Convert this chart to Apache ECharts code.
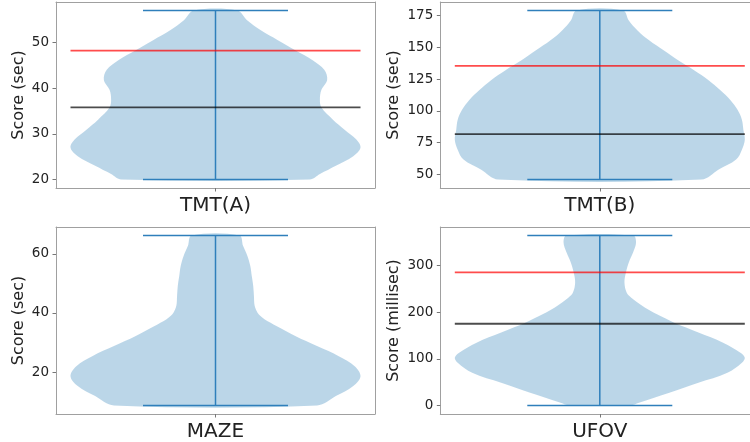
<!DOCTYPE html>
<html>
<head>
<meta charset="utf-8">
<script src="https://cdn.jsdelivr.net/npm/echarts@6/dist/echarts.min.js"></script>
<style>html,body{margin:0;padding:0;background:#fff;}#chart{width:750px;height:442px;}</style>
</head>
<body>
<div id="chart"></div>
<script>
// ---- data ----
const categories = ['TMT(A)', 'TMT(B)', 'MAZE', 'UFOV'];
const yAxisNames = ['Score (sec)', 'Score (sec)', 'Score (sec)', 'Score (millisec)'];
const yTickLabels = [[20, 30, 40, 50], [50, 75, 100, 125, 150, 175], [20, 40, 60], [0, 100, 200, 300]];
const minValues = [20, 46, 8.7, 0];
const maxValues = [57, 179, 66.2, 364];
const upperLines = [48.2, 135.4, null, 285];
const meanLines = [35.8, 81.7, null, 175];

// violin outlines: score values and relative half-widths (1 = widest)
const tmtAValues = [20.0, 21.2, 23.0, 25.1, 27.0, 28.8, 30.9, 33.1, 35.8, 37.5, 39.6, 41.8, 44.0, 46.1, 48.3, 50.5, 52.7, 54.8, 57.0];
const tmtAWidths = [0.65, 0.72, 0.83, 0.95, 1.0, 0.97, 0.89, 0.81, 0.73, 0.72, 0.73, 0.77, 0.75, 0.67, 0.55, 0.43, 0.31, 0.22, 0.15];
const tmtBValues = [46, 53.9, 61.7, 69.5, 77.3, 85.2, 93.0, 100.8, 108.6, 116.4, 124.2, 132.0, 139.8, 147.7, 155.5, 163.3, 171.1, 179];
const tmtBWidths = [0.70, 0.82, 0.94, 0.98, 1.0, 0.99, 0.98, 0.95, 0.90, 0.83, 0.75, 0.65, 0.54, 0.44, 0.34, 0.26, 0.20, 0.16];
const mazeValues = [8.7, 11.9, 15.3, 18.6, 22.0, 25.4, 28.8, 32.2, 35.6, 36.7, 37.8, 39.0, 40.1, 42.4, 45.8, 49.2, 52.5, 55.9, 59.3, 62.7, 66.2];
const mazeWidths = [0.70, 0.83, 0.95, 1.0, 0.96, 0.85, 0.70, 0.55, 0.42, 0.38, 0.34, 0.31, 0.29, 0.27, 0.265, 0.26, 0.25, 0.24, 0.22, 0.19, 0.165];
const ufovValues = [0, 5.8, 27.3, 48.7, 70.2, 91.7, 102.4, 113.2, 134.6, 156.1, 177.6, 188.4, 199, 209.8, 220.5, 231.3, 242, 263.5, 285, 306.4, 327.9, 349.4, 364];
const ufovWidths = [0.21, 0.27, 0.48, 0.68, 0.88, 0.98, 1.0, 0.97, 0.85, 0.68, 0.51, 0.44, 0.37, 0.31, 0.26, 0.215, 0.185, 0.17, 0.18, 0.20, 0.23, 0.25, 0.23];

const violinValues = [tmtAValues, tmtBValues, mazeValues, ufovValues];
const violinWidths = [tmtAWidths, tmtBWidths, mazeWidths, ufovWidths];

// ---- layout ----
const FONT = 'DejaVu Sans';
const FRAME = '#a0a0a0';
const grids = [
  { left: 56, top: 2, width: 319, height: 186, rightBorder: true },
  { left: 440.3, top: 2, width: 309.7, height: 186, rightBorder: false },
  { left: 56, top: 227, width: 319, height: 187, rightBorder: true },
  { left: 440.3, top: 227, width: 309.7, height: 187, rightBorder: false }
];
const nameGaps = [29, 38.5, 29, 38.5];
const POS = 1, HALF = 0.25, CAP = 0.125;
const X_MIN = POS - 0.275, UNITS_PER_PX = 0.55 / 319;

const option = { animation: false, grid: [], xAxis: [], yAxis: [], series: [] };

categories.forEach((cat, i) => {
  const g = grids[i];
  const xMax = X_MIN + g.width * UNITS_PER_PX;
  const rng = maxValues[i] - minValues[i];
  const yMin = minValues[i] - 0.05 * rng, yMax = maxValues[i] + 0.05 * rng;
  option.grid.push({ left: g.left, top: g.top, width: g.width, height: g.height, show: false, containLabel: false });
  const xi = option.xAxis.length, yi = option.yAxis.length;
  option.xAxis.push({
    gridIndex: i, type: 'value', min: X_MIN, max: xMax,
    axisLine: { show: true, onZero: false, lineStyle: { color: FRAME, width: 1 } },
    splitLine: { show: false },
    axisTick: { show: true, customValues: [POS], length: 3.5, lineStyle: { color: '#777' } },
    axisLabel: { show: true, customValues: [POS], formatter: () => cat, margin: 8,
      fontFamily: FONT, fontSize: 20, color: '#222' }
  });
  option.yAxis.push({
    gridIndex: i, type: 'value', min: yMin, max: yMax,
    name: yAxisNames[i], nameLocation: 'middle', nameGap: nameGaps[i], nameRotate: 90,
    nameTextStyle: { fontFamily: FONT, fontSize: 16, color: '#222' },
    axisLine: { show: true, onZero: false, lineStyle: { color: FRAME, width: 1 } },
    splitLine: { show: false },
    axisTick: { show: true, customValues: yTickLabels[i], length: 3.5, lineStyle: { color: '#777' } },
    axisLabel: { show: true, customValues: yTickLabels[i], margin: 7,
      fontFamily: FONT, fontSize: 13.5, color: '#222' }
  });
  // top frame line
  option.xAxis.push({
    gridIndex: i, type: 'value', position: 'top', min: X_MIN, max: xMax,
    axisLine: { show: true, onZero: false, lineStyle: { color: FRAME, width: 1 } },
    axisTick: { show: false }, axisLabel: { show: false }, splitLine: { show: false }
  });
  if (g.rightBorder) {
    option.yAxis.push({
      gridIndex: i, type: 'value', position: 'right', min: yMin, max: yMax,
      axisLine: { show: true, onZero: false, lineStyle: { color: FRAME, width: 1 } },
      axisTick: { show: false }, axisLabel: { show: false }, splitLine: { show: false }
    });
  }
  // violin body
  option.series.push({
    type: 'custom', xAxisIndex: xi, yAxisIndex: yi, data: [[POS, minValues[i]]], silent: true,
    renderItem: (params, api) => {
      const vals = violinValues[i], ws = violinWidths[i];
      const pts = [];
      for (let k = 0; k < vals.length; k++) pts.push(api.coord([POS + ws[k] * HALF, vals[k]]));
      for (let k = vals.length - 1; k >= 0; k--) pts.push(api.coord([POS - ws[k] * HALF, vals[k]]));
      return { type: 'polygon', shape: { points: pts, smooth: 0.35 },
        style: { fill: 'rgba(31,119,180,0.3)', stroke: null } };
    }
  });
  const lineBase = { type: 'line', xAxisIndex: xi, yAxisIndex: yi, symbol: 'none', silent: true };
  const blue = { color: '#2f7fbb', width: 1.5 };
  option.series.push(Object.assign({}, lineBase, { data: [[POS, minValues[i]], [POS, maxValues[i]]], lineStyle: blue }));
  option.series.push(Object.assign({}, lineBase, { data: [[POS - CAP, minValues[i]], [POS + CAP, minValues[i]]], lineStyle: blue }));
  option.series.push(Object.assign({}, lineBase, { data: [[POS - CAP, maxValues[i]], [POS + CAP, maxValues[i]]], lineStyle: blue }));
  if (upperLines[i] !== null) {
    option.series.push(Object.assign({}, lineBase, { data: [[POS - HALF, upperLines[i]], [POS + HALF, upperLines[i]]],
      lineStyle: { color: 'rgba(255,0,0,0.7)', width: 1.8 } }));
  }
  if (meanLines[i] !== null) {
    option.series.push(Object.assign({}, lineBase, { data: [[POS - HALF, meanLines[i]], [POS + HALF, meanLines[i]]],
      lineStyle: { color: 'rgba(0,0,0,0.7)', width: 1.8 } }));
  }
});

const chart = echarts.init(document.getElementById('chart'), null, { renderer: 'canvas' });
chart.setOption(option);
</script>
</body>
</html>
